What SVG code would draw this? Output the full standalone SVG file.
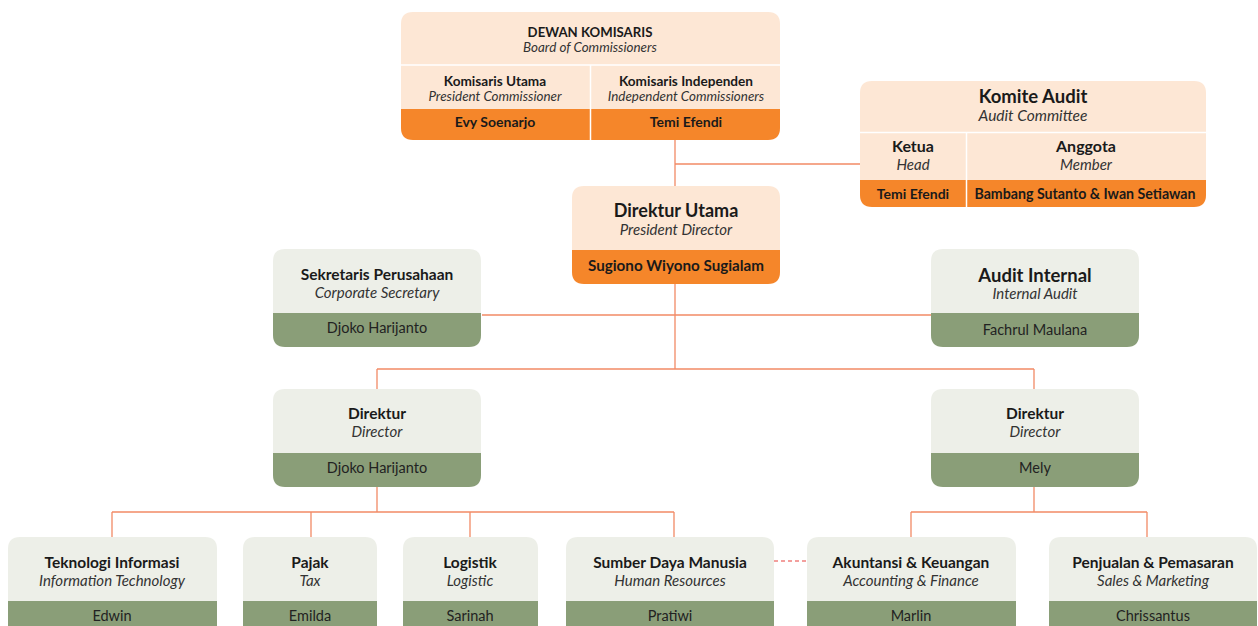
<svg xmlns="http://www.w3.org/2000/svg" width="1258" height="626" viewBox="0 0 1258 626">
<style>
text{font-family:Lato,"Open Sans","Liberation Sans",sans-serif;text-anchor:middle;fill:#1a1a1a}
.b{font-weight:bold}
.i{font-style:italic;fill:#333}
.n{fill:#222}
.peach{fill:#fde7d5}
.orange{fill:#f5862a}
.gray{fill:#edefe8}
.green{fill:#8a9e78}
.div{stroke:#ffffff;stroke-width:1.5}
.con{stroke:#f28a66;stroke-width:1.3;fill:none}
.dash{stroke:#e8413c;stroke-width:1.2;stroke-dasharray:4 3;fill:none}
</style>
<rect width="1258" height="626" fill="#ffffff"/>
<g id="connectors">
<path class="con" d="M675 140V186M675 164H860"/>
<path class="con" d="M675 284V369M482 315H931M377 369H1034M377 369V389M1034 369V389"/>
<path class="con" d="M377 487V512M112 512H674M112 512V537M311 512V537M470 512V537M674 512V537"/>
<path class="con" d="M1034 487V512M911 512H1147M911 512V537M1147 512V537"/>
<path class="dash" d="M774 561H807"/>
</g>
<g id="dewan-komisaris">
<path class="peach" d="M401 109V24Q401 12 413 12H768Q780 12 780 24V109Z"/>
<path class="orange" d="M401 109H780V128Q780 140 768 140H413Q401 140 401 128Z"/>
<path class="div" d="M401 65H780M590.5 65V140"/>
<text x="590" y="37" class="b" font-size="13.2">DEWAN KOMISARIS</text>
<text x="590" y="51.5" class="i" font-size="13.4">Board of Commissioners</text>
<text x="495" y="86" class="b" font-size="13.6">Komisaris Utama</text>
<text x="495" y="100.5" class="i" font-size="13.4">President Commissioner</text>
<text x="495" y="127" class="b" font-size="14">Evy Soenarjo</text>
<text x="686" y="86" class="b" font-size="13.6">Komisaris Independen</text>
<text x="686" y="100.5" class="i" font-size="13.4">Independent Commissioners</text>
<text x="686" y="127" class="b" font-size="14">Temi Efendi</text>
</g>
<g id="komite-audit">
<path class="peach" d="M860 180V93Q860 81 872 81H1194Q1206 81 1206 93V180Z"/>
<path class="orange" d="M860 180H1206V195Q1206 207 1194 207H872Q860 207 860 195Z"/>
<path class="div" d="M860 132.5H1206M966.5 132.5V207"/>
<text x="1033" y="103" class="b" font-size="18.5">Komite Audit</text>
<text x="1033" y="121" class="i" font-size="15.5">Audit Committee</text>
<text x="913" y="152" class="b" font-size="16">Ketua</text>
<text x="913" y="170" class="i" font-size="15">Head</text>
<text x="913" y="199" class="b" font-size="14">Temi Efendi</text>
<text x="1086" y="152" class="b" font-size="16">Anggota</text>
<text x="1086" y="170" class="i" font-size="15">Member</text>
<text x="1085" y="199" class="b" font-size="14.2">Bambang Sutanto &amp; Iwan Setiawan</text>
</g>
<g id="direktur-utama">
<path class="peach" d="M572 250V198Q572 186 584 186H768Q780 186 780 198V250Z"/>
<path class="orange" d="M572 250H780V272Q780 284 768 284H584Q572 284 572 272Z"/>
<text x="676" y="217" class="b" font-size="18">Direktur Utama</text>
<text x="676" y="235" class="i" font-size="15">President Director</text>
<text x="676" y="271" class="b" font-size="15.2">Sugiono Wiyono Sugialam</text>
</g>
<g id="sekretaris-perusahaan">
<path class="gray" d="M273 313V261Q273 249 285 249H469Q481 249 481 261V313Z"/>
<path class="green" d="M273 313H481V335Q481 347 469 347H285Q273 347 273 335Z"/>
<text x="377" y="280" class="b" font-size="15.5">Sekretaris Perusahaan</text>
<text x="377" y="298" class="i" font-size="15">Corporate Secretary</text>
<text x="377" y="333" class="n" font-size="14.5">Djoko Harijanto</text>
</g>
<g id="audit-internal">
<path class="gray" d="M931 313V261Q931 249 943 249H1127Q1139 249 1139 261V313Z"/>
<path class="green" d="M931 313H1139V335Q1139 347 1127 347H943Q931 347 931 335Z"/>
<text x="1035" y="282" class="b" font-size="18.5">Audit Internal</text>
<text x="1035" y="299" class="i" font-size="15">Internal Audit</text>
<text x="1035" y="335" class="n" font-size="14.5">Fachrul Maulana</text>
</g>
<g id="direktur-1">
<path class="gray" d="M273 453V401Q273 389 285 389H469Q481 389 481 401V453Z"/>
<path class="green" d="M273 453H481V475Q481 487 469 487H285Q273 487 273 475Z"/>
<text x="377" y="419" class="b" font-size="15.5">Direktur</text>
<text x="377" y="437" class="i" font-size="15">Director</text>
<text x="377" y="473" class="n" font-size="14.5">Djoko Harijanto</text>
</g>
<g id="direktur-2">
<path class="gray" d="M931 453V401Q931 389 943 389H1127Q1139 389 1139 401V453Z"/>
<path class="green" d="M931 453H1139V475Q1139 487 1127 487H943Q931 487 931 475Z"/>
<text x="1035" y="419" class="b" font-size="15.5">Direktur</text>
<text x="1035" y="437" class="i" font-size="15">Director</text>
<text x="1035" y="473" class="n" font-size="14.5">Mely</text>
</g>
<g id="teknologi-informasi">
<path class="gray" d="M8 601V549Q8 537 20 537H205Q217 537 217 549V601Z"/>
<path class="green" d="M8 601H217V628Q217 640 205 640H20Q8 640 8 628Z"/>
<text x="112" y="568" class="b" font-size="15.5">Teknologi Informasi</text>
<text x="112" y="586" class="i" font-size="15">Information Technology</text>
<text x="112" y="621" class="n" font-size="14.5">Edwin</text>
</g>
<g id="pajak">
<path class="gray" d="M243 601V549Q243 537 255 537H365Q377 537 377 549V601Z"/>
<path class="green" d="M243 601H377V628Q377 640 365 640H255Q243 640 243 628Z"/>
<text x="310" y="568" class="b" font-size="15.5">Pajak</text>
<text x="310" y="586" class="i" font-size="15">Tax</text>
<text x="310" y="621" class="n" font-size="14.5">Emilda</text>
</g>
<g id="logistik">
<path class="gray" d="M403 601V549Q403 537 415 537H526Q538 537 538 549V601Z"/>
<path class="green" d="M403 601H538V628Q538 640 526 640H415Q403 640 403 628Z"/>
<text x="470" y="568" class="b" font-size="15.5">Logistik</text>
<text x="470" y="586" class="i" font-size="15">Logistic</text>
<text x="470" y="621" class="n" font-size="14.5">Sarinah</text>
</g>
<g id="sumber-daya-manusia">
<path class="gray" d="M566 601V549Q566 537 578 537H762Q774 537 774 549V601Z"/>
<path class="green" d="M566 601H774V628Q774 640 762 640H578Q566 640 566 628Z"/>
<text x="670" y="568" class="b" font-size="15.5">Sumber Daya Manusia</text>
<text x="670" y="586" class="i" font-size="15">Human Resources</text>
<text x="670" y="621" class="n" font-size="14.5">Pratiwi</text>
</g>
<g id="akuntansi-keuangan">
<path class="gray" d="M807 601V549Q807 537 819 537H1004Q1016 537 1016 549V601Z"/>
<path class="green" d="M807 601H1016V628Q1016 640 1004 640H819Q807 640 807 628Z"/>
<text x="911" y="568" class="b" font-size="15.5">Akuntansi &amp; Keuangan</text>
<text x="911" y="586" class="i" font-size="15">Accounting &amp; Finance</text>
<text x="911" y="621" class="n" font-size="14.5">Marlin</text>
</g>
<g id="penjualan-pemasaran">
<path class="gray" d="M1049 601V549Q1049 537 1061 537H1245Q1257 537 1257 549V601Z"/>
<path class="green" d="M1049 601H1257V628Q1257 640 1245 640H1061Q1049 640 1049 628Z"/>
<text x="1153" y="568" class="b" font-size="15.5">Penjualan &amp; Pemasaran</text>
<text x="1153" y="586" class="i" font-size="15">Sales &amp; Marketing</text>
<text x="1153" y="621" class="n" font-size="14.5">Chrissantus</text>
</g>
</svg>
